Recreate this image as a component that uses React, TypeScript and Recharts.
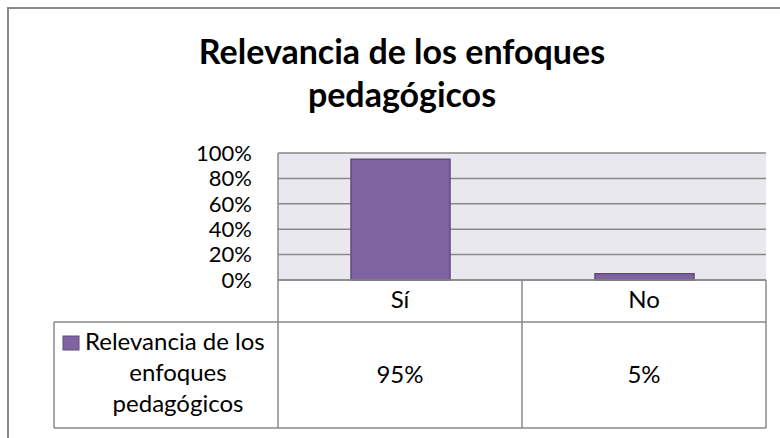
import React from 'react'
import { BarChart, Bar, XAxis, YAxis, CartesianGrid } from 'recharts'

const categories = ['Sí', 'No']
const values = [0.95, 0.05]
const yTicks = [0, 0.2, 0.4, 0.6, 0.8, 1]
const seriesName = 'Relevancia de los enfoques pedagógicos'
const titleLines = ['Relevancia de los enfoques', 'pedagógicos']
const legendLines = ['Relevancia de los', 'enfoques', 'pedagógicos']

const data = categories.map((cat, i) => ({ cat, value: values[i] }))

const W = 780
const H = 438
const PLOT_LEFT = 278
const PLOT_RIGHT = 766
const PLOT_TOP = 153
const PLOT_BOTTOM = 280
const HEAD_BOTTOM = 322
const TABLE_BOTTOM = 428
const LEGEND_LEFT = 54
const Y_AXIS_W = 80

const FONT = 'Lato, "Open Sans", sans-serif'
const LINE = '#898989'
const BAR = '#8064A2'
const BAR_EDGE = '#5E4A7C'

const pct = (v: number) => `${Math.round(v * 100)}%`

function TableTick(props: any) {
  const { x, payload, index } = props
  return (
    <g>
      <text x={x} y={308} textAnchor="middle" fontSize={24} fill="#000" fontFamily={FONT}>
        {payload.value}
      </text>
      <text x={x} y={383} textAnchor="middle" fontSize={24} fill="#000" fontFamily={FONT}>
        {pct(values[index])}
      </text>
    </g>
  )
}

export default function App() {
  const mid = (PLOT_LEFT + PLOT_RIGHT) / 2
  return (
    <div style={{ position: 'absolute', left: 0, top: 0, width: W, height: H, background: '#fff', fontFamily: FONT }}>
      <BarChart
        width={W}
        height={H}
        data={data}
        margin={{ top: PLOT_TOP, right: W - PLOT_RIGHT, bottom: 10, left: PLOT_LEFT - Y_AXIS_W }}
      >
        <CartesianGrid vertical={false} fill="#EAE8EF" stroke={LINE} strokeWidth={1.5} />
        <XAxis
          dataKey="cat"
          axisLine={false}
          tickLine={false}
          height={H - PLOT_BOTTOM - 10}
          tick={<TableTick />}
          interval={0}
        />
        <YAxis
          width={Y_AXIS_W}
          domain={[0, 1]}
          ticks={yTicks}
          interval={0}
          tickFormatter={pct}
          axisLine={false}
          tickLine={false}
          tickSize={0}
          tickMargin={26}
          tick={{ fill: '#000', fontSize: 22, fontFamily: FONT }}
        />
        <Bar
          dataKey="value"
          name={seriesName}
          fill={BAR}
          stroke={BAR_EDGE}
          strokeWidth={1.5}
          barSize={99}
          isAnimationActive={false}
        />
      </BarChart>
      <svg width={W} height={H} style={{ position: 'absolute', left: 0, top: 0, pointerEvents: 'none' }}>
        <rect x={8} y={8} width={900} height={600} fill="none" stroke={LINE} strokeWidth={2} />
        {titleLines.map((t, i) => (
          <text key={t} x={402} y={64 + i * 43} textAnchor="middle" fontSize={34} fontWeight="bold" fill="#000" fontFamily={FONT}>
            {t}
          </text>
        ))}
        <g stroke={LINE} strokeWidth={1.5}>
          <line x1={PLOT_LEFT} y1={PLOT_TOP} x2={PLOT_LEFT} y2={TABLE_BOTTOM} />
          <line x1={PLOT_LEFT} y1={PLOT_BOTTOM} x2={PLOT_RIGHT} y2={PLOT_BOTTOM} />
          <line x1={mid} y1={PLOT_BOTTOM} x2={mid} y2={TABLE_BOTTOM} />
          <line x1={PLOT_RIGHT} y1={PLOT_BOTTOM} x2={PLOT_RIGHT} y2={TABLE_BOTTOM} />
          <line x1={LEGEND_LEFT} y1={HEAD_BOTTOM} x2={PLOT_RIGHT} y2={HEAD_BOTTOM} />
          <line x1={LEGEND_LEFT} y1={TABLE_BOTTOM} x2={PLOT_RIGHT} y2={TABLE_BOTTOM} />
          <line x1={LEGEND_LEFT} y1={HEAD_BOTTOM} x2={LEGEND_LEFT} y2={TABLE_BOTTOM} />
        </g>
        <rect x={63} y={336} width={16} height={14} fill={BAR} stroke={BAR_EDGE} strokeWidth={1} />
        {legendLines.map((t, i) => (
          <text key={t} x={i === 0 ? 85 : 178} y={350 + i * 31} textAnchor={i === 0 ? 'start' : 'middle'} fontSize={24} fill="#000" fontFamily={FONT}>
            {t}
          </text>
        ))}
      </svg>
    </div>
  )
}
